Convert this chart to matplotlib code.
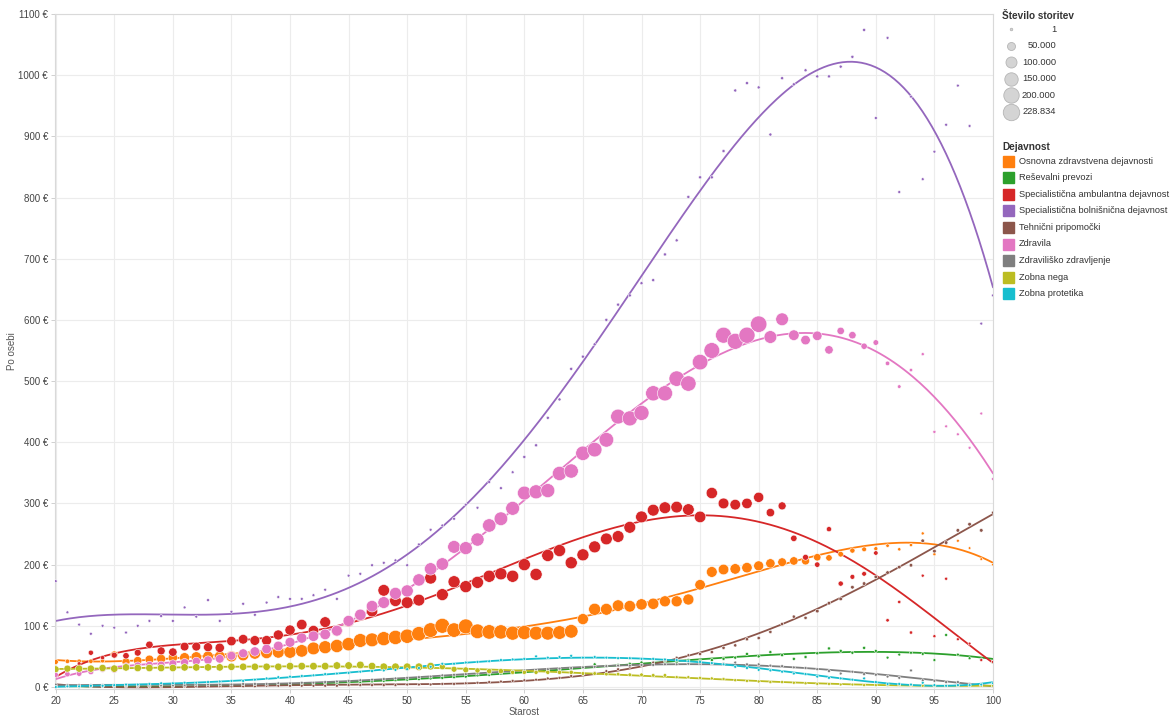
import numpy as np
import matplotlib.pyplot as plt

plt.rcParams['font.family'] = ['Liberation Sans', 'DejaVu Sans']

# starost (age) 20..100
ages = np.arange(20, 101)

# strošek po osebi (EUR) per dejavnost, one value per age
osnovna = [41, 42, 42, 42, 43, 53, 41, 43, 45, 46,
           48, 48, 49, 50, 50, 50, 52, 55, 56, 57,
           57, 59, 63, 65, 67, 70, 76, 77, 79, 81,
           83, 87, 93, 100, 93, 99, 91, 90, 90, 88,
           89, 88, 88, 89, 91, 111, 127, 127, 133, 132,
           135, 136, 140, 140, 143, 167, 188, 192, 193, 195,
           198, 202, 204, 206, 206, 212, 211, 217, 223, 225,
           226, 231, 225, 232, 251, 217, 235, 239, 227, 209,
           200]
resevalni = [1, 1, 0, 1, 1, 1, 1, 1, 1, 1,
             1, 1, 2, 2, 2, 2, 3, 3, 3, 4,
             4, 5, 5, 6, 7, 7, 8, 9, 10, 11,
             12, 13, 14, 15, 16, 17, 19, 20, 22, 23,
             24, 26, 27, 29, 30, 32, 37, 34, 36, 38,
             40, 40, 42, 41, 44, 43, 44, 46, 48, 54,
             50, 57, 52, 46, 49, 55, 63, 59, 56, 64,
             59, 48, 53, 56, 54, 44, 85, 53, 47, 45,
             40]
ambulantna = [22, 30, 38, 56, 48, 52, 51, 56, 69, 59,
              57, 66, 66, 65, 64, 75, 78, 76, 76, 85,
              93, 102, 92, 106, 92, 107, 117, 124, 158, 141,
              138, 142, 178, 151, 172, 164, 171, 181, 185, 181,
              200, 184, 215, 223, 203, 216, 229, 242, 246, 261,
              278, 289, 293, 294, 290, 278, 317, 300, 298, 300,
              310, 285, 296, 243, 212, 200, 258, 169, 180, 185,
              219, 109, 139, 89, 182, 83, 177, 78, 71, 44,
              41]
bolnisnicna = [173, 122, 102, 87, 100, 97, 89, 100, 108, 116,
               108, 130, 115, 142, 108, 123, 136, 118, 138, 147,
               144, 144, 150, 159, 144, 182, 185, 199, 203, 207,
               199, 233, 257, 264, 275, 298, 293, 335, 325, 351,
               376, 395, 440, 470, 520, 540, 560, 600, 625, 640,
               660, 665, 707, 730, 801, 833, 833, 876, 975, 987,
               980, 903, 995, 985, 1008, 998, 998, 1014, 1030, 1074,
               930, 1061, 809, 965, 830, 875, 919, 983, 917, 594,
               640]
tehnicni = [2, 1, 1, 1, 1, 1, 1, 1, 1, 1,
            1, 1, 1, 1, 1, 1, 1, 1, 2, 2,
            2, 2, 2, 2, 2, 3, 3, 3, 3, 3,
            4, 4, 4, 5, 5, 6, 7, 8, 9, 10,
            11, 12, 14, 15, 18, 21, 23, 26, 29, 33,
            36, 40, 44, 48, 52, 54, 57, 64, 68, 78,
            80, 90, 103, 115, 113, 124, 137, 144, 163, 169,
            180, 187, 196, 199, 239, 222, 236, 256, 266, 256,
            285]
zdravila = [20, 21, 22, 25, 29, 28, 34, 35, 36, 36,
            38, 40, 42, 44, 46, 51, 55, 58, 62, 67,
            73, 80, 83, 86, 92, 108, 118, 132, 138, 153,
            157, 175, 193, 201, 229, 227, 241, 264, 275, 292,
            317, 319, 321, 349, 353, 382, 388, 404, 442, 439,
            448, 480, 480, 504, 496, 531, 550, 575, 565, 575,
            593, 572, 601, 575, 567, 574, 551, 582, 575, 557,
            563, 529, 491, 518, 544, 417, 426, 413, 391, 447,
            340]
zdravilisko = [4, 3, 3, 3, 3, 3, 3, 3, 3, 3,
               3, 3, 4, 4, 4, 4, 5, 5, 5, 6,
               6, 7, 7, 8, 9, 10, 11, 12, 13, 14,
               15, 16, 17, 19, 20, 21, 22, 23, 25, 26,
               27, 28, 29, 30, 31, 32, 33, 34, 35, 35,
               36, 36, 37, 37, 38, 38, 38, 38, 40, 37,
               37, 35, 34, 32, 31, 29, 26, 22, 25, 21,
               20, 17, 15, 27, 11, 10, 8, 8, 5, 3,
               1]
zobna_nega = [29, 30, 30, 30, 31, 30, 32, 31, 31, 31,
              31, 32, 32, 32, 32, 33, 33, 33, 33, 33,
              34, 34, 34, 34, 35, 35, 36, 34, 33, 33,
              33, 33, 34, 33, 29, 28, 27, 26, 26, 24,
              24, 24, 24, 24, 24, 22, 22, 21, 21, 20,
              20, 19, 19, 16, 16, 15, 14, 13, 11, 10,
              9, 8, 8, 7, 6, 5, 5, 4, 4, 3,
              3, 3, 3, 3, 2, 2, 2, 2, 2, 2,
              2]
zobna_protetika = [0, 1, 1, 2, 2, 3, 4, 4, 5, 6,
                   6, 7, 7, 8, 9, 10, 10, 12, 14, 16,
                   17, 18, 19, 21, 22, 23, 25, 26, 27, 28,
                   29, 31, 33, 38, 38, 40, 41, 42, 44, 45,
                   46, 50, 48, 49, 51, 48, 49, 48, 47, 47,
                   46, 46, 45, 44, 42, 41, 39, 37, 33, 31,
                   28, 27, 25, 22, 21, 17, 15, 14, 12, 14,
                   8, 5, 5, 4, 7, 3, 2, 3, 3, 4,
                   6]

# število storitev (thousands) per age
n_osnovna = [18, 12, 12, 12, 12, 40, 50, 56, 60, 65,
             70, 80, 90, 92, 95, 100, 105, 112, 115, 120,
             125, 130, 135, 140, 145, 150, 159, 159, 165, 170,
             170, 175, 180, 186, 175, 186, 180, 175, 170, 165,
             165, 160, 160, 155, 155, 100, 120, 115, 110, 110,
             105, 105, 100, 100, 100, 90, 95, 92, 90, 88,
             80, 70, 60, 56, 50, 42, 30, 22, 18, 14,
             9, 5, 4, 4, 3, 3, 2, 2, 1, 1,
             1]
n_ambulantna = [5, 6, 8, 18, 10, 25, 30, 35, 42, 50,
                56, 60, 62, 65, 70, 73, 75, 78, 80, 82,
                85, 90, 92, 95, 98, 100, 105, 108, 112, 112,
                115, 115, 118, 118, 120, 120, 120, 122, 122, 122,
                122, 122, 122, 122, 122, 120, 118, 115, 115, 115,
                115, 115, 115, 112, 112, 110, 105, 95, 92, 90,
                85, 56, 50, 30, 25, 20, 18, 18, 15, 14,
                12, 5, 4, 4, 3, 3, 3, 2, 2, 2,
                2]
n_zdravila = [18, 20, 22, 25, 28, 30, 35, 40, 42, 45,
              48, 50, 52, 55, 58, 60, 65, 70, 73, 76,
              80, 85, 90, 92, 95, 100, 105, 110, 115, 120,
              122, 125, 128, 130, 135, 140, 145, 150, 155, 160,
              160, 165, 165, 170, 170, 175, 180, 180, 185, 190,
              190, 195, 195, 200, 200, 205, 210, 215, 215, 220,
              228.834, 135, 135, 92, 73, 73, 56, 42, 42, 29,
              22, 12, 6, 5, 3, 3, 2, 2, 2, 2,
              2]
n_zobna_nega = [35, 38, 40, 40, 40, 42, 42, 42, 42, 42,
                42, 42, 42, 42, 42, 42, 42, 42, 42, 42,
                45, 45, 45, 45, 45, 45, 45, 45, 45, 45,
                45, 45, 45, 25, 25, 25, 18, 18, 18, 10,
                10, 10, 10, 10, 10, 6, 6, 6, 6, 6,
                6, 6, 6, 3, 3, 3, 3, 3, 3, 3,
                3, 3, 3, 3, 3, 2, 2, 2, 2, 2,
                2, 2, 2, 2, 2, 2, 2, 2, 2, 2,
                2]
n_resevalni = [2] * 30 + [3] * 40 + [2] * 11
n_bolnisnicna = [2] * 40 + [3] * 30 + [2] * 11
n_tehnicni = [2] * 55 + [4] * 10 + [6] * 15 + [3] * 1
n_zdravilisko = [2] * 81
n_zobna_protetika = [2] * 81

dejavnosti = [
    ("Osnovna zdravstvena dejavnosti", "#ff7f0e", osnovna, n_osnovna),
    ("Reševalni prevozi", "#2ca02c", resevalni, n_resevalni),
    ("Specialistična ambulantna dejavnost", "#d62728", ambulantna, n_ambulantna),
    ("Specialistična bolnišnična dejavnost", "#9467bd", bolnisnicna, n_bolnisnicna),
    ("Tehnični pripomočki", "#8c564b", tehnicni, n_tehnicni),
    ("Zdravila", "#e377c2", zdravila, n_zdravila),
    ("Zdraviliško zdravljenje", "#7f7f7f", zdravilisko, n_zdravilisko),
    ("Zobna nega", "#bcbd22", zobna_nega, n_zobna_nega),
    ("Zobna protetika", "#17becf", zobna_protetika, n_zobna_protetika),
]

size_legend = [1, 50000, 100000, 150000, 200000, 228834]
size_labels = ["1", "50.000", "100.000", "150.000", "200.000", "228.834"]

N_MAX = 228834
S_MIN, S_MAX = 3.2, 140.0
DEG = 5  # polynomial trend degree


def marker_size(count):
    """scatter area (pt^2) for a number of services"""
    count = np.asarray(count, dtype=float)
    return S_MIN + (S_MAX - S_MIN) * count / N_MAX


W, H = 1176, 716
fig = plt.figure(figsize=(W / 100, H / 100), dpi=100)
ax = fig.add_axes([55 / W, 1 - 689 / H, 938 / W, 675 / H])

xs = np.linspace(20, 100, 400)
for name, color, vals, counts in dejavnosti:
    vals = np.asarray(vals, dtype=float)
    coef = np.polyfit(ages, vals, DEG)
    ax.plot(xs, np.polyval(coef, xs), color=color, lw=1.3, zorder=2,
            solid_capstyle='round')
    ax.scatter(ages, vals, s=marker_size(np.asarray(counts) * 1000.0),
               color=color, edgecolors='white', linewidths=0.4, zorder=3)

ax.set_xlim(19.94, 100.0)
ax.set_ylim(-3.3, 1100)
ax.set_xticks(np.arange(20, 101, 5))
ax.set_yticks(np.arange(0, 1101, 100))
ax.set_yticklabels([f"{v} €" for v in range(0, 1101, 100)])
ax.grid(True, color='#ececec', lw=0.8, zorder=0)
ax.set_axisbelow(True)
for sp in ax.spines.values():
    sp.set_color('#d9d9d9')
    sp.set_linewidth(0.8)
ax.tick_params(axis='both', labelsize=7, colors='#d0d0d0', labelcolor='#444444',
               length=3, width=0.7, pad=2)
ax.set_xlabel("Starost", fontsize=7, color='#555555', labelpad=1)
ax.set_ylabel("Po osebi", fontsize=7, color='#555555', labelpad=1)

# legends drawn on an overlay axes in pixel coordinates
lax = fig.add_axes([0, 0, 1, 1])
lax.set_xlim(0, W)
lax.set_ylim(H, 0)
lax.axis('off')

lax.text(1002, 16, "Število storitev", fontsize=7.2, fontweight='bold',
         color='#333333', va='center', ha='left')
for i, (cnt, lab) in enumerate(zip(size_legend, size_labels)):
    y = 29 + i * 16.6
    lax.scatter([1011], [y], s=marker_size(cnt), color='#d4d4d4',
                edgecolors='#b5b5b5', linewidths=0.6)
    lax.text(1056, y, lab, fontsize=6.7, color='#333333', va='center', ha='right')

lax.text(1002, 147, "Dejavnost", fontsize=7.2, fontweight='bold',
         color='#333333', va='center', ha='left')
for i, (name, color, _, _) in enumerate(dejavnosti):
    y = 161 + i * 16.6
    lax.add_patch(plt.Rectangle((1003, y - 5.5), 11, 11, color=color))
    lax.text(1019, y, name, fontsize=6.7, color='#333333', va='center', ha='left')

fig.savefig("out.png", dpi=100)
